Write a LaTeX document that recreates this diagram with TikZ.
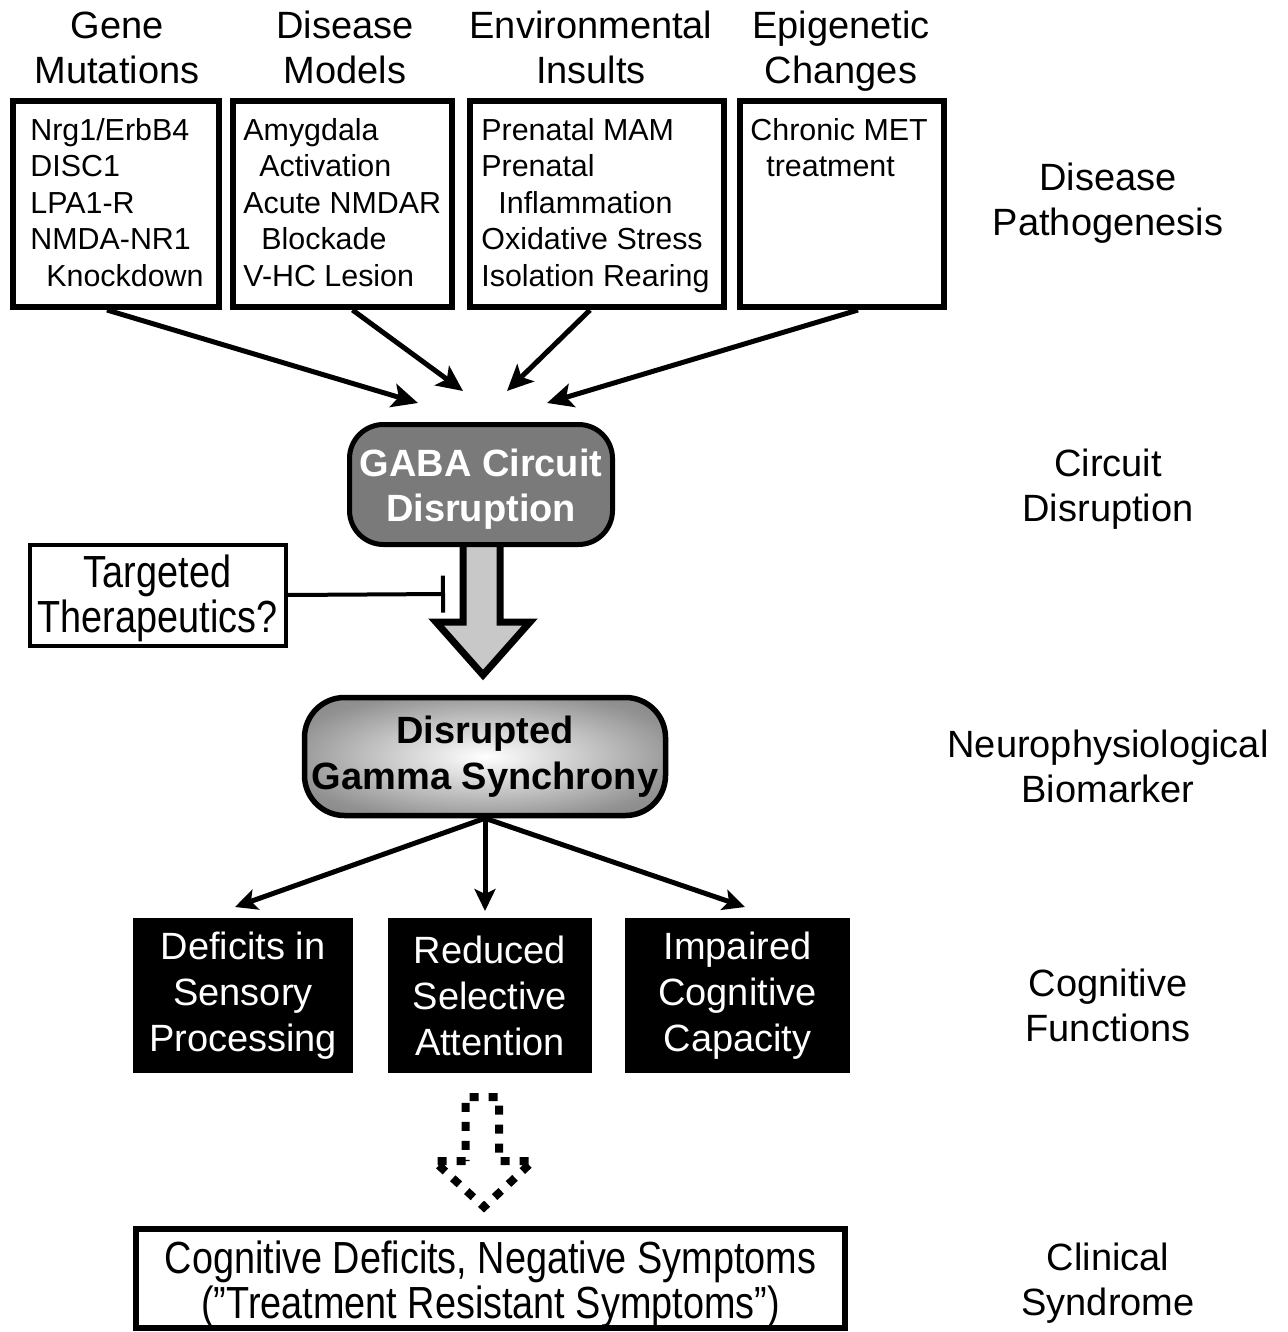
\documentclass[tikz,border=0pt]{standalone}
\usepackage{fontspec}
\setmainfont{Liberation Sans}
\newfontfamily\narrowfont[FakeStretch=0.84]{Liberation Sans}
\usetikzlibrary{arrows.meta,calc}
\definecolor{gabagray}{RGB}{122,122,122}
\definecolor{arrowgray}{RGB}{200,200,200}
\definecolor{glowa}{RGB}{220,220,220}
\definecolor{glowb}{RGB}{145,145,145}
\definecolor{glowc}{RGB}{112,112,112}
\definecolor{glowd}{RGB}{96,96,96}
\pgfdeclareradialshading{glow}{\pgfpoint{0bp}{0bp}}{color(0bp)=(white); color(9bp)=(glowa); color(28bp)=(glowb); color(50bp)=(glowc); color(72bp)=(glowd)}
\newcommand\topst[1]{\rule{0pt}{#1}}
\newcommand\botst{\rule[-5pt]{0pt}{0pt}}
\begin{document}
\begin{tikzpicture}[x=0.5pt,y=-0.5pt,
  hdr/.style={align=center,font=\fontsize{19}{22.5}\selectfont,inner sep=0pt},
  lst/.style={align=left,anchor=north west,font=\fontsize{15.2}{18.25}\selectfont,inner sep=0pt},
  pbox/.style={draw,line width=3pt,minimum height=103pt,inner sep=0pt},
  conn/.style={line width=2.5pt,-{Stealth[length=13pt,width=12pt,inset=3pt]}},
  conn2/.style={line width=2.5pt,-{Stealth[length=11pt,width=10.5pt,inset=2.5pt]}},
  blk/.style={fill=black,text=white,minimum height=77.5pt,align=center,font=\fontsize{19}{23}\selectfont,inner sep=0pt},
]
\useasboundingbox (0,0) rectangle (1287,1332);

% column headers
\node[hdr] (h1) at (117,51) {\topst{15pt}Gene\\Mutations\botst};
\node[hdr] (h2) at (345,51) {\topst{15pt}Disease\\Models\botst};
\node[hdr] (h3) at (591,51) {\topst{15pt}Environmental\\Insults\botst};
\node[hdr] (h4) at (841,51) {\topst{15pt}Epigenetic\\Changes\botst};

% right-hand level labels
\node[hdr] (r1) at (1108,203) {\topst{15pt}Disease\\Pathogenesis\botst};
\node[hdr] (r2) at (1108,489) {\topst{15pt}Circuit\\Disruption\botst};
\node[hdr] (r3) at (1108,770) {\topst{15pt}Neurophysiological\\Biomarker\botst};
\node[hdr] (r4) at (1108,1009) {\topst{15pt}Cognitive\\Functions\botst};
\node[hdr] (r5) at (1108,1283) {\topst{15pt}Clinical\\Syndrome\botst};

% pathogenesis boxes
\node[pbox,minimum width=103pt] (b1) at (116,204) {};
\node[pbox,minimum width=109.5pt] (b2) at (342.5,204) {};
\node[pbox,minimum width=127pt] (b3) at (597,204) {};
\node[pbox,minimum width=102pt] (b4) at (842,204) {};

\node[lst] (t1) at (30,118) {Nrg1/ErbB4\\DISC1\\LPA1-R\\NMDA-NR1\\\hspace*{8pt}Knockdown};
\node[lst] (t2) at (243,118) {Amygdala\\\hspace*{8pt}Activation\\Acute NMDAR\\\hspace*{9pt}Blockade\\V-HC Lesion};
\node[lst] (t3) at (481,118) {Prenatal MAM\\Prenatal\\\hspace*{8.5pt}Inflammation\\Oxidative Stress\\Isolation Rearing};
\node[lst] (t4) at (750,118) {Chronic MET\\\hspace*{8pt}treatment};

% arrows into GABA node
\coordinate (a1) at (418,403);
\coordinate (a2) at (463,391);
\coordinate (a3) at (507,391);
\coordinate (a4) at (547,403);
\draw[conn] ($(b1.south)+(-9,0)$) -- (a1);
\draw[conn] ($(b2.south)+(10,0)$) -- (a2);
\draw[conn] ($(b3.south)+(-7,0)$) -- (a3);
\draw[conn] ($(b4.south)+(16,0)$) -- (a4);

% big hollow arrow
\draw[line width=3.5pt,fill=arrowgray,line join=miter]
  (463,540) -- (463,622) -- (436,622) -- (483,675) -- (530,622) -- (500,622) -- (500,540);

% GABA circuit disruption
\node[draw,line width=2.5pt,rounded corners=17pt,fill=gabagray,minimum width=131.5pt,minimum height=60pt,
  text=white,font=\bfseries\fontsize{19}{22.5}\selectfont,align=center,inner sep=0pt]
  (gaba) at (481,484.5) {\topst{19.6pt}GABA Circuit\\Disruption\botst};

% targeted therapeutics
\node[draw,line width=2pt,minimum width=128pt,minimum height=50.5pt,align=center,
  font=\narrowfont\fontsize{22.5}{22.5}\selectfont,inner sep=0pt]
  (ther) at (157.5,595) {\topst{19.6pt}Targeted\\Therapeutics?\botst};
\coordinate (inh) at (445,594);
\draw[line width=2pt,-{Bar[width=18.5pt]}] (ther.east) -- (inh);

% gamma synchrony
\node[draw,line width=2.75pt,rounded corners=20pt,shade,shading=glow,minimum width=180.5pt,minimum height=59pt,
  font=\bfseries\fontsize{19}{23}\selectfont,align=center,inner sep=0pt]
  (gamma) at (485,756.5) {\topst{15.1pt}Disrupted\\Gamma Synchrony\botst};

% cognitive function boxes
\node[blk,minimum width=110pt] (cA) at (243,995.5) {Deficits in\\Sensory\\Processing};
\node[blk,minimum width=102pt] (cB) at (490,995.5) {Reduced\\Selective\\Attention};
\node[blk,minimum width=112.5pt] (cC) at (737.5,995.5) {Impaired\\Cognitive\\Capacity};

\coordinate (tA) at (235,907);
\coordinate (tB) at (485,911);
\coordinate (tC) at (745,907);
\draw[conn2] (gamma.south) -- (tA);
\draw[conn2] (gamma.south) -- (tB);
\draw[conn2] (gamma.south) -- (tC);

% dashed hollow arrow
\draw[line width=4pt,dash pattern=on 4.5pt off 5pt,line join=miter]
  (465.5,1161) -- (434,1161) -- (484,1207) -- (533,1161) -- (499,1161) -- (499,1097) -- (465.5,1097) -- cycle;

% clinical syndrome
\node[draw,line width=3pt,minimum width=354.5pt,minimum height=48.5pt,align=center,
  font=\narrowfont\fontsize{22.5}{22.5}\selectfont,inner sep=0pt]
  (clin) at (490.5,1278.5) {\topst{22.1pt}Cognitive Deficits, Negative Symptoms\\(”Treatment Resistant Symptoms”)\botst};
\end{tikzpicture}
\end{document}
